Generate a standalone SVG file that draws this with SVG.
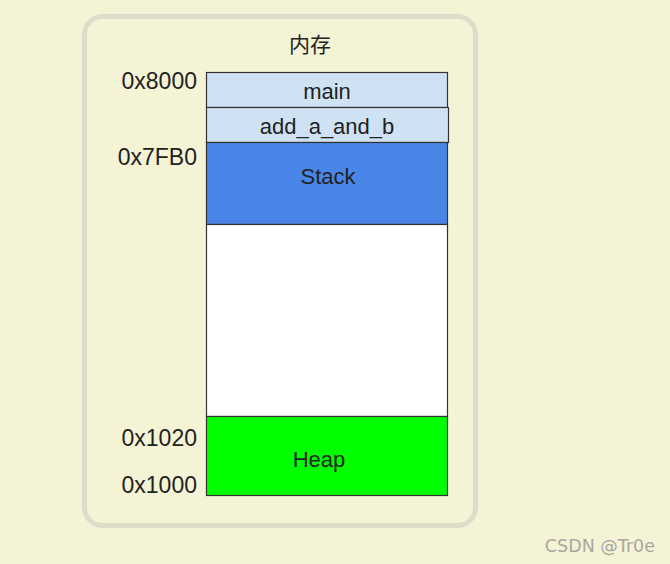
<svg xmlns="http://www.w3.org/2000/svg" width="670" height="564" viewBox="0 0 670 564">
<style>
.lbl{font-family:"Liberation Sans",Arial,sans-serif;font-size:22px;fill:#222;}
.addr{font-family:"Liberation Sans",Arial,sans-serif;font-size:23px;fill:#222;text-anchor:end;}
.blk{stroke:#333;stroke-width:1.2;}
.c{text-anchor:middle;}
</style>
<rect x="0" y="0" width="670" height="564" fill="#f4f3d6"/>
<g id="frame">
<rect x="84.5" y="16.5" width="391" height="509" rx="18" ry="18" fill="#f4f3d6" stroke="#dfddc9" stroke-width="5"/>
<text class="lbl c" x="310" y="52" style="font-family:'Liberation Sans','Noto Sans CJK SC',sans-serif;font-size:21px">内存</text>
</g>
<g id="main">
<rect class="blk" x="206.5" y="72.5" width="241" height="35" fill="#cfe2f3"/>
<text class="lbl c" x="327" y="99">main</text>
</g>
<g id="add_a_and_b">
<rect class="blk" x="206.5" y="107.5" width="242" height="35" fill="#cfe2f3"/>
<text class="lbl c" x="327" y="134">add_a_and_b</text>
</g>
<g id="stack">
<rect class="blk" x="206.5" y="142.5" width="241" height="82" fill="#4a86e8"/>
<text class="lbl c" x="328" y="184">Stack</text>
</g>
<g id="free">
<rect class="blk" x="206.5" y="224.5" width="241" height="192" fill="#ffffff"/>
</g>
<g id="heap">
<rect class="blk" x="206.5" y="416.5" width="241" height="79" fill="#00ff00"/>
<text class="lbl c" x="319" y="467">Heap</text>
</g>
<g id="addresses">
<text class="addr" x="197" y="89">0x8000</text>
<text class="addr" x="197" y="165">0x7FB0</text>
<text class="addr" x="197" y="446">0x1020</text>
<text class="addr" x="197" y="493">0x1000</text>
</g>
<g id="connectors"></g>
<text x="655" y="552" text-anchor="end" style="font-family:'DejaVu Sans','Noto Sans',sans-serif;font-size:17.5px;fill:#a8a8a0">CSDN @Tr0e</text>
</svg>
